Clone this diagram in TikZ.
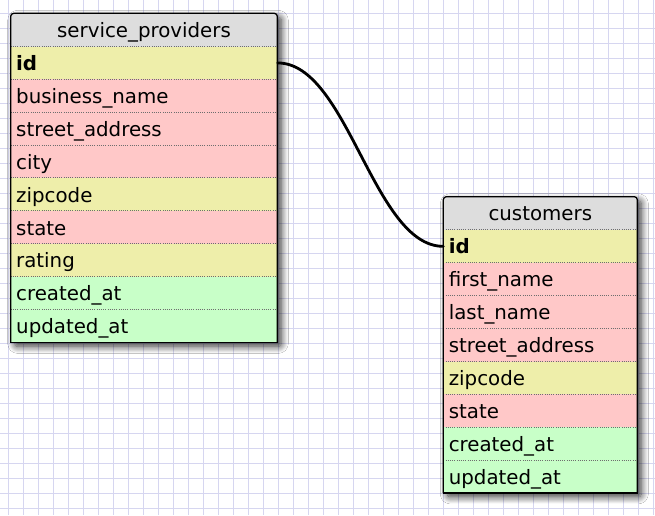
\documentclass[tikz,border=0pt]{standalone}
\usepackage{fontspec}
\setmainfont{DejaVu Sans}
\usetikzlibrary{shadows.blur}

\definecolor{gridc}{RGB}{214,214,240}
\definecolor{hdrgray}{RGB}{221,221,221}
\definecolor{numc}{RGB}{238,238,170}
\definecolor{strc}{RGB}{255,200,200}
\definecolor{datec}{RGB}{200,255,200}
\definecolor{sepc}{RGB}{110,110,110}

\tikzset{
  gridline/.style={draw=gridc, line width=1.6pt},
  tablebg/.style={fill=hdrgray, rounded corners=3pt,
    blur shadow={shadow xshift=4pt, shadow yshift=-4pt,
      shadow blur radius=7pt, shadow blur steps=14, shadow opacity=80}},
  tabletitle/.style={anchor=north, minimum height=33pt, inner sep=0pt,
    text height=24pt, text depth=9pt},
  fieldrow/.style={anchor=north west, minimum height=32.9pt, inner ysep=0pt,
    inner xsep=5.3pt, align=left, text height=24pt, text depth=8.9pt},
  rowsep/.style={draw=sepc, line width=0.9pt, dash pattern=on 1pt off 1.2pt},
  frame/.style={draw=black, line width=1.3pt},
  link/.style={draw=black, line width=2.8pt, line cap=round},
}

% #1 prefix, #2 left, #3 right, #4 top, #5 number of fields, #6 title, #7 fields
\newcommand\erdtable[7]{%
  \pgfmathsetmacro\tbot{#4+33+#5*32.9}
  \path[tablebg] (#2,#4) rectangle (#3,\tbot);
  \node[tabletitle] (#1-title) at ({(#2+#3)/2},#4) {#6};
  \foreach \lab/\col/\key [count=\i from 0] in {#7} {
    \node[fieldrow, fill=\col, minimum width={#3-#2}, text width={#3-#2-10.6}]
      (#1-\key) at (#2,{#4+33+\i*32.9}) {\lab};
    \draw[rowsep] (#1-\key.north west) -- (#1-\key.north east);
  }
  \draw[frame, rounded corners=3pt] (#2,\tbot) -- (#2,#4) -- (#3,#4) -- (#3,\tbot);
  \draw[frame, line cap=rect] (#2,\tbot) -- (#3,\tbot);
}

\begin{document}
\begin{tikzpicture}[x=1pt, y=-1pt, font=\fontsize{19.8}{23}\selectfont]
  \useasboundingbox (0,0) rectangle (655,515);
  \fill[white] (0,0) rectangle (655,515);

  % background grid
  \foreach \gx in {8.3,23.3,...,653.3} \draw[gridline] (\gx,0) -- (\gx,515);
  \foreach \gy in {13.3,28.3,...,513.3} \draw[gridline] (0,\gy) -- (655,\gy);

  \erdtable{sp}{10.7}{277.3}{13.3}{9}{service\_providers}{
    \textbf{id}/numc/id,
    business\_name/strc/business,
    street\_address/strc/street,
    city/strc/city,
    zipcode/numc/zip,
    state/strc/state,
    rating/numc/rating,
    created\_at/datec/created,
    updated\_at/datec/updated}

  \erdtable{cu}{443.3}{637.3}{196.7}{8}{customers}{
    \textbf{id}/numc/id,
    first\_name/strc/first,
    last\_name/strc/last,
    street\_address/strc/street,
    zipcode/numc/zip,
    state/strc/state,
    created\_at/datec/created,
    updated\_at/datec/updated}

  % foreign key link
  \draw[link] (sp-id.east) .. controls +(70,0) and +(-70,0) .. (cu-id.west);
\end{tikzpicture}
\end{document}
